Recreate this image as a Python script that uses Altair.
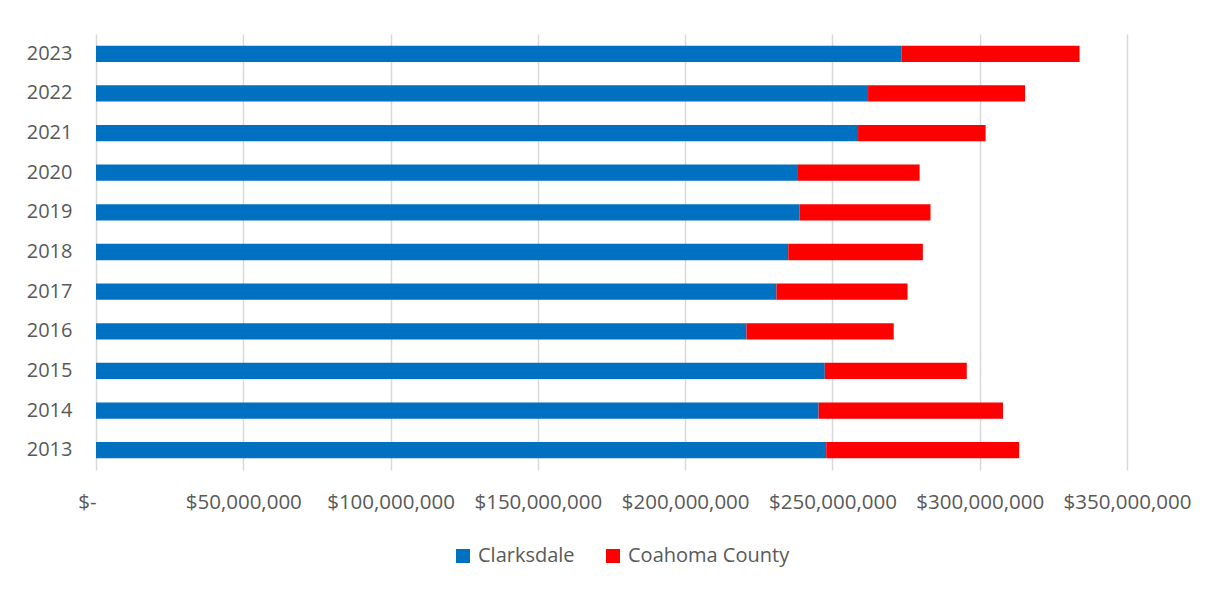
import altair as alt
import pandas as pd

years = ["2013", "2014", "2015", "2016", "2017", "2018", "2019", "2020", "2021", "2022", "2023"]
clarksdale = [247.9e6, 245.3e6, 247.4e6, 220.8e6, 231.0e6, 235.0e6, 238.8e6, 238.3e6, 258.7e6, 262.1e6, 273.4e6]
coahoma = [65.5e6, 62.6e6, 48.2e6, 50.0e6, 44.5e6, 45.7e6, 44.5e6, 41.3e6, 43.3e6, 53.3e6, 60.5e6]
series = ["Clarksdale", "Coahoma County"]
colors = ["#0070C0", "#FF0000"]

rows = []
for i, y in enumerate(years):
    rows.append({"year": y, "series": series[0], "value": clarksdale[i], "order": 0})
    rows.append({"year": y, "series": series[1], "value": coahoma[i], "order": 1})
df = pd.DataFrame(rows)

FONT = "Open Sans"
GRAY = "#595959"

chart = alt.Chart(df).mark_bar().encode(
    y=alt.Y("year:N", sort="descending", title=None,
            scale=alt.Scale(paddingInner=0.59, paddingOuter=0.295),
            axis=alt.Axis(domain=False, ticks=False, labelPadding=24,
                          labelFontSize=20, labelFont=FONT, labelColor=GRAY)),
    x=alt.X("value:Q", stack="zero", title=None,
            scale=alt.Scale(domain=[0, 350e6], nice=False),
            axis=alt.Axis(values=[0, 50e6, 100e6, 150e6, 200e6, 250e6, 300e6, 350e6],
                          labelExpr="datum.value == 0 ? '$-' : '$' + format(datum.value, ',')",
                          labelAlign={"condition": {"test": "datum.value == 0", "value": "right"}, "value": "center"},
                          domain=False, ticks=False, labelPadding=22,
                          labelOverlap=False, labelFlush=False,
                          labelFontSize=20.5, labelFont=FONT, labelColor=GRAY,
                          grid=True, gridColor="#d9d9d9", gridWidth=1.5)),
    color=alt.Color("series:N", scale=alt.Scale(domain=series, range=colors),
                    legend=alt.Legend(title=None, orient="none", direction="horizontal",
                                      legendX=357, legendY=512,
                                      symbolType="square", symbolSize=196, symbolStrokeWidth=0,
                                      labelFontSize=20, labelFont=FONT, labelColor=GRAY,
                                      labelLimit=0, labelOffset=5, columnPadding=28)),
    order=alt.Order("order:Q"),
).properties(
    width=1031, height=436, background="white",
    padding={"left": 18, "top": 26, "right": 10, "bottom": 10},
).configure_view(strokeWidth=0, stroke="transparent")

chart.save("out.html", embed_options={"renderer": "svg", "actions": False})
